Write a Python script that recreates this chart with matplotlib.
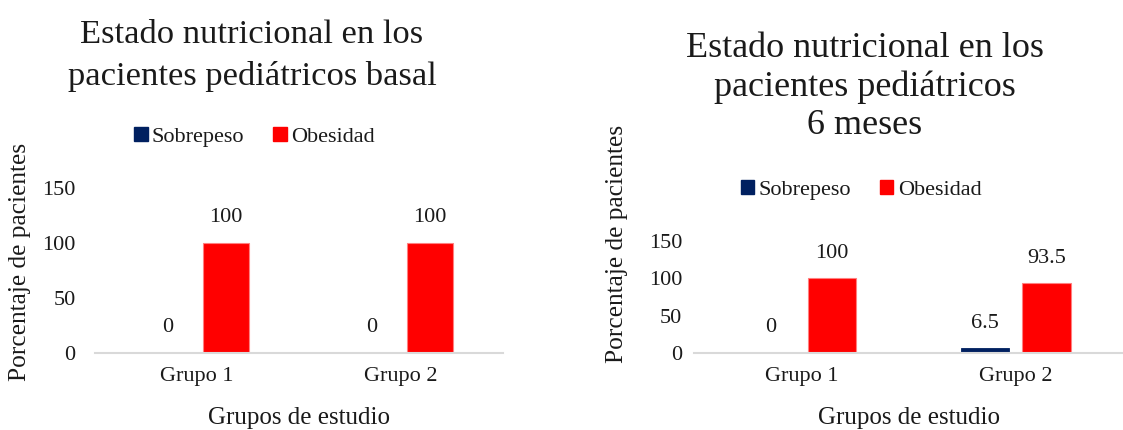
import matplotlib
matplotlib.use("Agg")
import matplotlib.pyplot as plt
from matplotlib.patches import Patch
import numpy as np

plt.rcParams["font.family"] = ["Liberation Serif", "DejaVu Serif"]

groups = ["Grupo 1", "Grupo 2"]
series = ["Sobrepeso", "Obesidad"]
basal_sobrepeso = [0, 0]
basal_obesidad = [100, 100]
meses6_sobrepeso = [0, 6.5]
meses6_obesidad = [100, 93.5]
yticks = [0, 50, 100, 150]

title_basal = "Estado nutricional en los\npacientes pediátricos basal"
title_6m = "Estado nutricional en los\npacientes pediátricos\n6 meses"
xlabel = "Grupos de estudio"
ylabel = "Porcentaje de pacientes"

colors = ["#002060", "#FF0000"]
edges = ["#002060", "#FF8080"]
text_color = "#1a1a1a"

W, H = 1123, 430
fig = plt.figure(figsize=(W / 100, H / 100), dpi=100)


def px_axes(x0, x1, y_bottom, y_top):
    return fig.add_axes([x0 / W, 1 - y_bottom / H, (x1 - x0) / W, (y_bottom - y_top) / H])


def draw(ax, sob, obe, ytick_pad, ylab_pos, xlab_y):
    x = np.arange(len(groups))
    width = 0.225
    off = 0.143
    b1 = ax.bar(x - off, sob, width, color=colors[0], edgecolor=edges[0], linewidth=0.6)
    b2 = ax.bar(x + off, obe, width, color=colors[1], edgecolor=edges[1], linewidth=0.8)
    for bars, vals in ((b1, sob), (b2, obe)):
        for rect, v in zip(bars, vals):
            ax.annotate(f"{v:g}", (rect.get_x() + rect.get_width() / 2, v),
                        xytext=(0, 18), textcoords="offset points",
                        ha="center", va="center", fontsize=16, color=text_color)
    ax.set_xlim(-0.5, len(groups) - 0.5)
    ax.set_ylim(0, 150)
    ax.set_yticks(yticks)
    ax.set_xticks(x)
    ax.set_xticklabels(groups)
    ax.tick_params(axis="both", length=0, labelsize=16, colors=text_color)
    ax.tick_params(axis="y", pad=ytick_pad)
    ax.tick_params(axis="x", pad=10)
    for s in ("top", "right", "left"):
        ax.spines[s].set_visible(False)
    ax.spines["bottom"].set_color("#d9d9d9")
    ax.spines["bottom"].set_linewidth(1.5)
    ax.set_xlabel(xlabel, fontsize=18, color=text_color, va="center")
    ax.xaxis.set_label_coords(0.5, xlab_y)
    ax.set_ylabel(ylabel, fontsize=18.3, color=text_color, va="center", ha="center")
    ax.yaxis.set_label_coords(*ylab_pos)


handles = [Patch(facecolor=c, edgecolor=c) for c in colors]

# Basal
ax1 = px_axes(95, 503, 353, 188)
draw(ax1, basal_sobrepeso, basal_obesidad, 14, (-0.184, 0.552), -0.394)
fig.text(252 / W, 1 - 55.5 / H, title_basal, ha="center", va="center",
         fontsize=24.8, linespacing=1.45, color=text_color)
fig.legend(handles, series, loc="center", bbox_to_anchor=(254.5 / W, 1 - 137 / H),
           ncol=2, frameon=False, fontsize=16, handlelength=0.6, handleheight=0.6,
           handletextpad=0.2, columnspacing=1.3, labelcolor=text_color)

# 6 meses
ax2 = px_axes(694, 1123, 353, 241)
draw(ax2, meses6_sobrepeso, meses6_obesidad, 8.5, (-0.179, 0.978), -0.58)
fig.text(865 / W, 1 - 87 / H, title_6m, ha="center", va="center",
         fontsize=26, linespacing=1.22, color=text_color)
fig.legend(handles, series, loc="center", bbox_to_anchor=(861 / W, 1 - 190 / H),
           ncol=2, frameon=False, fontsize=16, handlelength=0.6, handleheight=0.6,
           handletextpad=0.2, columnspacing=1.3, labelcolor=text_color)

fig.savefig("out.png", dpi=100, facecolor="white")
